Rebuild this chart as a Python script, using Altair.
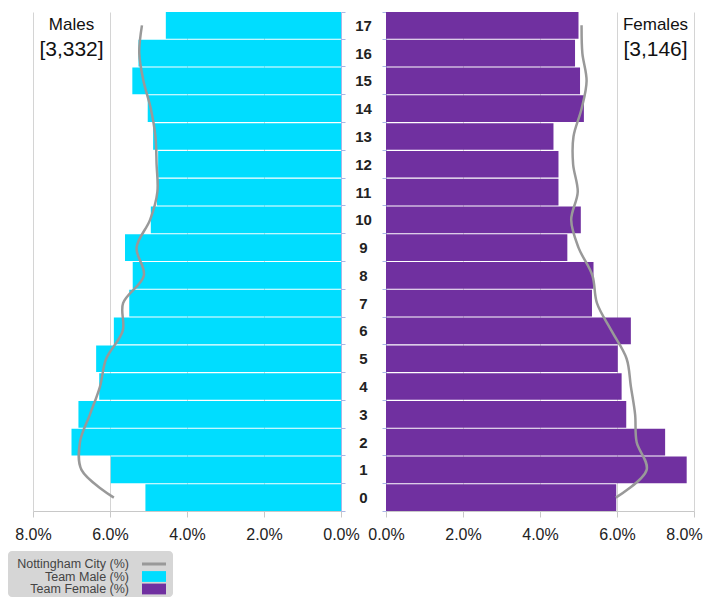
import altair as alt
import pandas as pd

ages = list(range(18))
team_male = [5.08, 5.98, 7.00, 6.82, 6.28, 6.36, 5.90, 5.50, 5.41, 5.61,
             4.94, 4.78, 4.75, 4.88, 5.02, 5.42, 5.26, 4.55]
team_female = [5.98, 7.81, 7.25, 6.24, 6.12, 6.02, 6.36, 5.35, 5.39, 4.71,
               5.06, 4.48, 4.48, 4.35, 5.14, 5.04, 4.91, 5.00]
city_male = [5.90, 6.74, 6.78, 6.52, 6.26, 6.10, 5.67, 5.66, 5.12, 5.31,
             4.96, 4.77, 4.79, 4.82, 4.94, 5.13, 5.24, 5.17]
city_female = [5.97, 6.77, 6.51, 6.47, 6.36, 6.25, 5.86, 5.48, 5.36, 5.00,
               4.81, 4.98, 4.86, 4.87, 5.08, 5.21, 5.10, 5.08]
x_ticks = [0, 2, 4, 6, 8]
panel_titles = {"Males": ["Males", "[3,332]"], "Females": ["Females", "[3,146]"]}
legend_items = ["Nottingham City (%)", "Team Male (%)", "Team Female (%)"]

CYAN = "#00DDFF"
PURPLE = "#7030A0"
GREY = "#999999"
FONT = "Liberation Sans"

df = pd.DataFrame({"age": ages, "male": team_male, "female": team_female,
                   "cmale": city_male, "cfemale": city_female})

W, H = 308, 499
y_scale = alt.Scale(paddingInner=0.04, paddingOuter=0)


def x_axis(last_offset=0):
    return alt.Axis(values=x_ticks, labelExpr="format(datum.value, '.1f') + '%'",
                    title=None, grid=True, gridColor="#d4d4d4", gridWidth=1,
                    domainColor="#c8c8c8", tickColor="#c8c8c8", tickSize=6,
                    labelFontSize=16, labelColor="#222222", labelFont=FONT,
                    labelPadding=9, labelFlush=False,
                    labelOffset={"condition": {"test": "datum.value == 8",
                                               "value": last_offset}, "value": 0})


def panel(val, city, color, reverse, yaxis, title_key, last_offset):
    base = alt.Chart(df)
    xs = alt.Scale(domain=[0, 8], reverse=reverse, nice=False)
    ye = alt.Y("age:O", sort="descending", scale=y_scale)
    bars = base.mark_bar(color=color).encode(
        x=alt.X(f"{val}:Q", scale=xs, axis=x_axis(last_offset)),
        y=alt.Y("age:O", sort="descending", scale=y_scale, axis=yaxis),
    )
    line = base.mark_line(color=GREY, strokeWidth=2.5,
                          interpolate="catmull-rom").encode(
        x=alt.X(f"{city}:Q", scale=xs), y=ye, order=alt.Order("age:Q"),
    )
    lines = panel_titles[title_key]
    tdf = pd.DataFrame({"age": [17, 16], "txt": lines, "x": [7, 7]})
    t1 = alt.Chart(tdf.iloc[[0]]).mark_text(fontSize=17, font=FONT, color="#111111").encode(
        x=alt.X("x:Q", scale=xs), y=ye, text="txt:N")
    t2 = alt.Chart(tdf.iloc[[1]]).mark_text(fontSize=21, font=FONT, color="#111111", dy=-3).encode(
        x=alt.X("x:Q", scale=xs), y=ye, text="txt:N")
    return alt.layer(bars, line, t1, t2).properties(width=W, height=H)


left_y = alt.Axis(orient="right", title=None, domain=True, domainColor="#aab6e6",
                  ticks=True, tickBand="extent", tickSize=4, tickColor="#aab6e6",
                  labelAlign="center", labelPadding=18, labelFontSize=15,
                  labelFontWeight="bold", labelColor="#222222", labelFont=FONT,
                  grid=False)
right_y = alt.Axis(orient="left", title=None, domain=True, domainColor="#aab6e6",
                   ticks=True, tickBand="extent", tickSize=4, tickColor="#aab6e6",
                   labels=False, grid=False)

left = panel("male", "cmale", CYAN, True, left_y, "Males", 0)
right = panel("female", "cfemale", PURPLE, False, right_y, "Females", -10)

top = alt.hconcat(left, right, spacing=45, bounds="flush").resolve_scale(x="independent")

# custom legend (labels right-aligned left of the symbols), box hangs left of the plot edge
ldf = pd.DataFrame({"item": legend_items, "row": [0, 1, 2],
                    "kind": ["line", "rect", "rect"]})
ly = alt.Y("row:Q", scale=alt.Scale(domain=[0, 2], range=[13, 38], nice=False, zero=False),
           axis=None)
lbox = alt.Chart(ldf.iloc[[0]]).mark_rect(fill="#d6d6d6", cornerRadius=4).encode(
    x=alt.value(-25), x2=alt.value(140), y=alt.value(0), y2=alt.value(46))
ltext = alt.Chart(ldf).mark_text(align="right", baseline="middle", fontSize=12.5, font=FONT,
                                 color="#444444").encode(
    x=alt.value(96), y=ly, text="item:N")
lline = alt.Chart(ldf).transform_filter("datum.kind == 'line'").mark_rule(
    color=GREY, strokeWidth=3).encode(x=alt.value(109), x2=alt.value(133), y=ly)
lrect = alt.Chart(ldf).transform_filter("datum.kind == 'rect'").mark_point(
    shape="M-1,-0.45 L1,-0.45 L1,0.45 L-1,0.45 Z", filled=True, opacity=1, size=576).encode(
    x=alt.value(121), y=ly,
    color=alt.Color("item:N", scale=alt.Scale(domain=legend_items[1:], range=[CYAN, PURPLE]),
                    legend=None))
legend = alt.layer(lbox, ltext, lline, lrect).properties(width=140, height=46)

chart = alt.vconcat(top, legend, spacing=9).properties(
    padding={"left": 0, "top": -3, "right": 0, "bottom": 0}
).configure_view(stroke=None)

chart.save("out.html", embed_options={"renderer": "svg", "actions": False})
